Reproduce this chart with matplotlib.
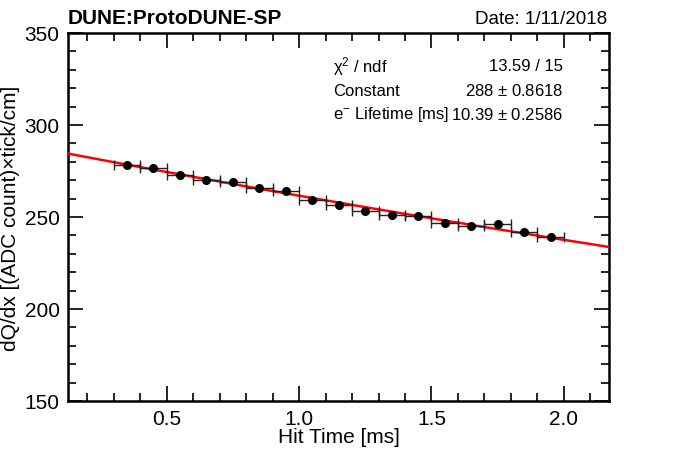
import numpy as np
import matplotlib
matplotlib.use("Agg")
import matplotlib.pyplot as plt
from matplotlib.ticker import MultipleLocator

plt.rcParams['font.family'] = ['Liberation Sans', 'DejaVu Sans']
plt.rcParams['mathtext.default'] = 'regular'

# data
hit_time = [0.35, 0.45, 0.55, 0.65, 0.75, 0.85, 0.95, 1.05, 1.15,
            1.25, 1.35, 1.45, 1.55, 1.65, 1.75, 1.85, 1.95]
dqdx = [278.1, 276.5, 273.0, 270.0, 268.9, 265.6, 264.0, 259.4, 256.4,
        253.4, 251.1, 250.3, 246.7, 244.9, 246.0, 241.8, 239.0]
bin_half = 0.05

fit_const = 288.0
fit_tau = 10.39

stat_names = [r"$\chi^{2}$ / ndf", "Constant", r"e$^{-}$ Lifetime [ms]"]
stat_values = ["13.59 / 15", "288 $\\pm$ 0.8618", "10.39 $\\pm$ 0.2586"]

fig = plt.figure(figsize=(6.78, 4.6), dpi=100)
ax = fig.add_axes([68 / 678, 1 - 402 / 460, (609 - 68) / 678, (402 - 34) / 460])

xmin, xmax = 0.128, 2.17
xx = np.linspace(xmin, xmax, 200)
ax.plot(xx, fit_const * np.exp(-xx / fit_tau), color='red', lw=1.8, zorder=3)

ax.errorbar(hit_time, dqdx, xerr=bin_half, fmt='o', color='black', ms=5.5,
            ecolor='#222222', elinewidth=1.0, capsize=3.5, capthick=1.0, zorder=4)

ax.set_xlim(xmin, xmax)
ax.set_ylim(150, 350)
ax.xaxis.set_major_locator(MultipleLocator(0.5))
ax.xaxis.set_minor_locator(MultipleLocator(0.1))
ax.yaxis.set_major_locator(MultipleLocator(50))
ax.yaxis.set_minor_locator(MultipleLocator(10))
ax.set_xticks([0.5, 1.0, 1.5, 2.0])
ax.set_xticklabels(["0.5", "1.0", "1.5", "2.0"])
ax.tick_params(which='both', direction='in', top=True, right=True, labelsize=15, width=1.2)
ax.tick_params(which='major', length=11, pad=6)
ax.tick_params(which='minor', length=6)
for s in ax.spines.values():
    s.set_linewidth(1.8)

ax.set_xlabel("Hit Time [ms]", fontsize=15, labelpad=-1)
ax.set_ylabel("dQ/dx [(ADC count)×tick/cm]", fontsize=15, labelpad=3)

fig.text(68 / 678, 1 - 18 / 460, "DUNE:ProtoDUNE-SP", fontsize=15, fontweight='bold',
         ha='left', va='center')
fig.text(607 / 678, 1 - 19 / 460, "Date: 1/11/2018", fontsize=13.5, ha='right', va='center')

for i, (n, v) in enumerate(zip(stat_names, stat_values)):
    yy = 1 - (67 + 24 * i) / 460
    fig.text(333 / 678, yy, n, fontsize=12, ha='left', va='center')
    fig.text(563 / 678, yy, v, fontsize=12, ha='right', va='center')

fig.savefig("out.png", dpi=100)
